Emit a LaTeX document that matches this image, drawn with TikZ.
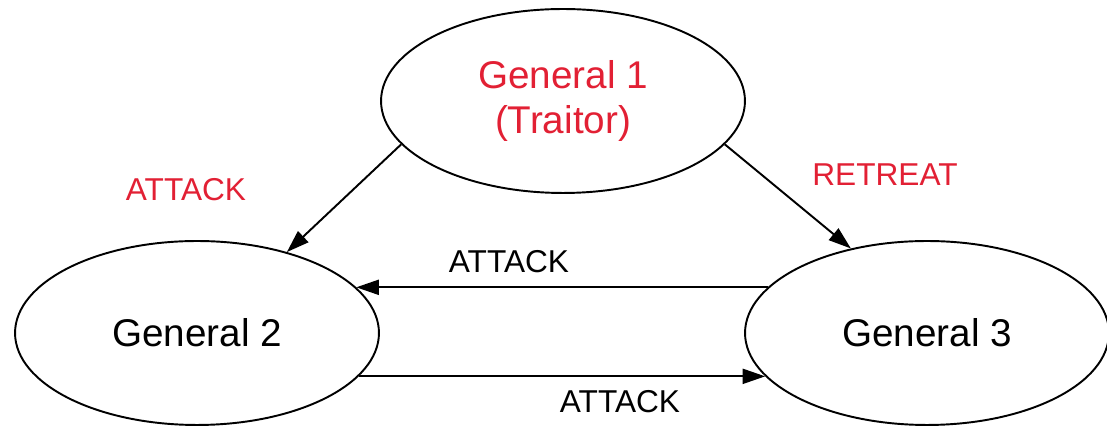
\documentclass[tikz,border=0pt]{standalone}
\usepackage{fontspec}
\setmainfont{Liberation Sans}
\usetikzlibrary{shapes.geometric,arrows.meta}
\definecolor{traitorred}{RGB}{226,32,52}

\begin{document}
\begin{tikzpicture}[x=0.02cm, y=-0.02cm,
    general/.style={ellipse, draw, line width=1.1pt, minimum width=7.28cm,
        minimum height=3.68cm, inner sep=0pt, align=center,
        font=\fontsize{22}{25.5}\selectfont},
    order/.style={line width=1.1pt, -{Triangle[length=0.45cm, width=0.3cm]}},
    msg/.style={font=\fontsize{18}{20}\selectfont}]

    \useasboundingbox (0,0) rectangle (1107,428);

    % The three generals
    \node[general, text=traitorred] (g1) at (563,101) {General 1\\(Traitor)};
    \node[general] (g2) at (197,333) {General 2};
    \node[general] (g3) at (927,333) {General 3};

    % Orders sent by the traitor
    \draw[order] (g1.195) -- (g2.42);
    \draw[order] (g1.345) -- (g3.132);
    \node[msg, text=traitorred] (m12) at (186,190) {ATTACK};
    \node[msg, text=traitorred] (m13) at (885,175) {RETREAT};

    % Orders passed on between the loyal ones
    \draw[order] (g3.164) -- (g2.16);
    \draw[order] (g2.345) -- (g3.195);
    \node[msg] (m32) at (509,262) {ATTACK};
    \node[msg] (m23) at (620,402) {ATTACK};

\end{tikzpicture}
\end{document}
